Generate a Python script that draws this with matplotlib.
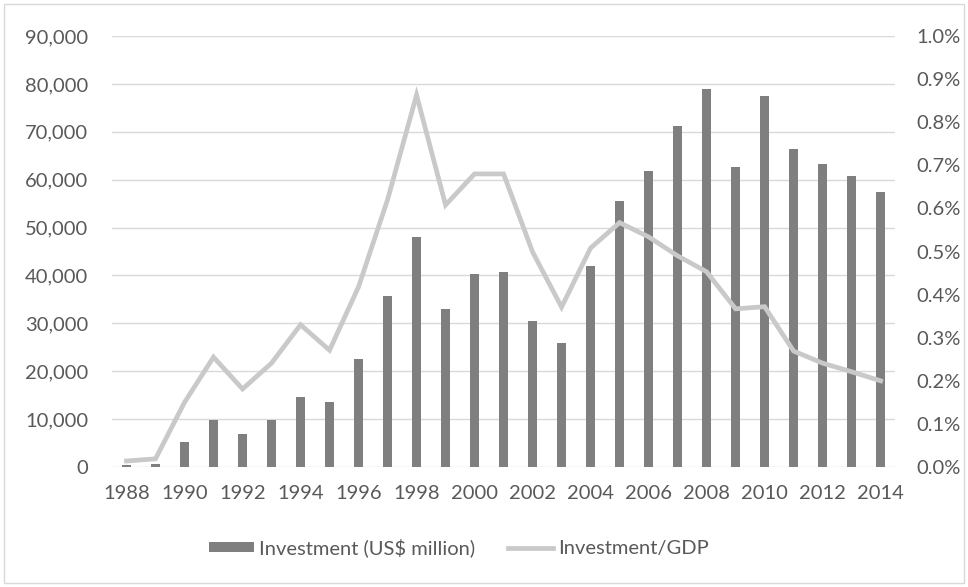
import matplotlib.pyplot as plt
from matplotlib.patches import Rectangle
from matplotlib.ticker import FuncFormatter

# Data
years = list(range(1988, 2015))
investment = [400, 600, 5200, 9800, 6900, 9800, 14600, 13600, 22500, 35700,
              48000, 33000, 40300, 40700, 30500, 25900, 42000, 55600, 61900,
              71200, 78900, 62600, 77500, 66400, 63300, 60800, 57400]
inv_gdp = [0.014, 0.019, 0.15, 0.255, 0.181, 0.241, 0.33, 0.271, 0.418, 0.62,
           0.863, 0.608, 0.68, 0.68, 0.499, 0.371, 0.508, 0.567, 0.534,
           0.49, 0.453, 0.367, 0.372, 0.269, 0.241, 0.221, 0.2]

text_col = "#595959"
fsize = 14.5
plt.rcParams['font.family'] = ['Lato', 'DejaVu Sans']

fig = plt.figure(figsize=(9.68, 5.87), dpi=100)
ax = fig.add_axes([0.1157, 0.2044, 0.809, 0.7343])
ax2 = ax.twinx()

bars = ax.bar(years, investment, width=0.31, color="#7f7f7f", zorder=3,
              label="Investment (US$ million)")
line, = ax2.plot(years, inv_gdp, color="#c9c9c9", linewidth=3.4,
                 solid_joinstyle="miter", label="Investment/GDP")

ax.set_xlim(1987.5, 2014.5)
ax.set_ylim(0, 90000)
ax.set_yticks(range(0, 90001, 10000))
ax.yaxis.set_major_formatter(FuncFormatter(lambda v, p: f"{int(v):,}"))
ax2.set_ylim(0, 1.0)
ax2.set_yticks([i / 10 for i in range(11)])
ax2.yaxis.set_major_formatter(FuncFormatter(lambda v, p: f"{v:.1f}%"))
ax.set_xticks(years[::2])

ax.grid(axis="y", color="#d9d9d9", linewidth=1.0, zorder=0)
for a in (ax, ax2):
    for s in a.spines.values():
        s.set_visible(False)
    a.tick_params(length=0, labelsize=fsize, colors=text_col)
ax.tick_params(axis="y", pad=17)
ax2.tick_params(axis="y", pad=15)
ax.tick_params(axis="x", pad=13)

fig.legend([bars, line], ["Investment (US$ million)", "Investment/GDP"],
           loc="center", bbox_to_anchor=(0.474, 0.067), ncol=2, frameon=False,
           fontsize=fsize, labelcolor=text_col, handlelength=2.25,
           handleheight=0.45, columnspacing=1.6, handletextpad=0.25)

fig.patches.append(Rectangle((0.004, 0.006), 0.992, 0.988, transform=fig.transFigure,
                             fill=False, edgecolor="#d9d9d9", linewidth=1))

fig.savefig("out.png", dpi=100)
